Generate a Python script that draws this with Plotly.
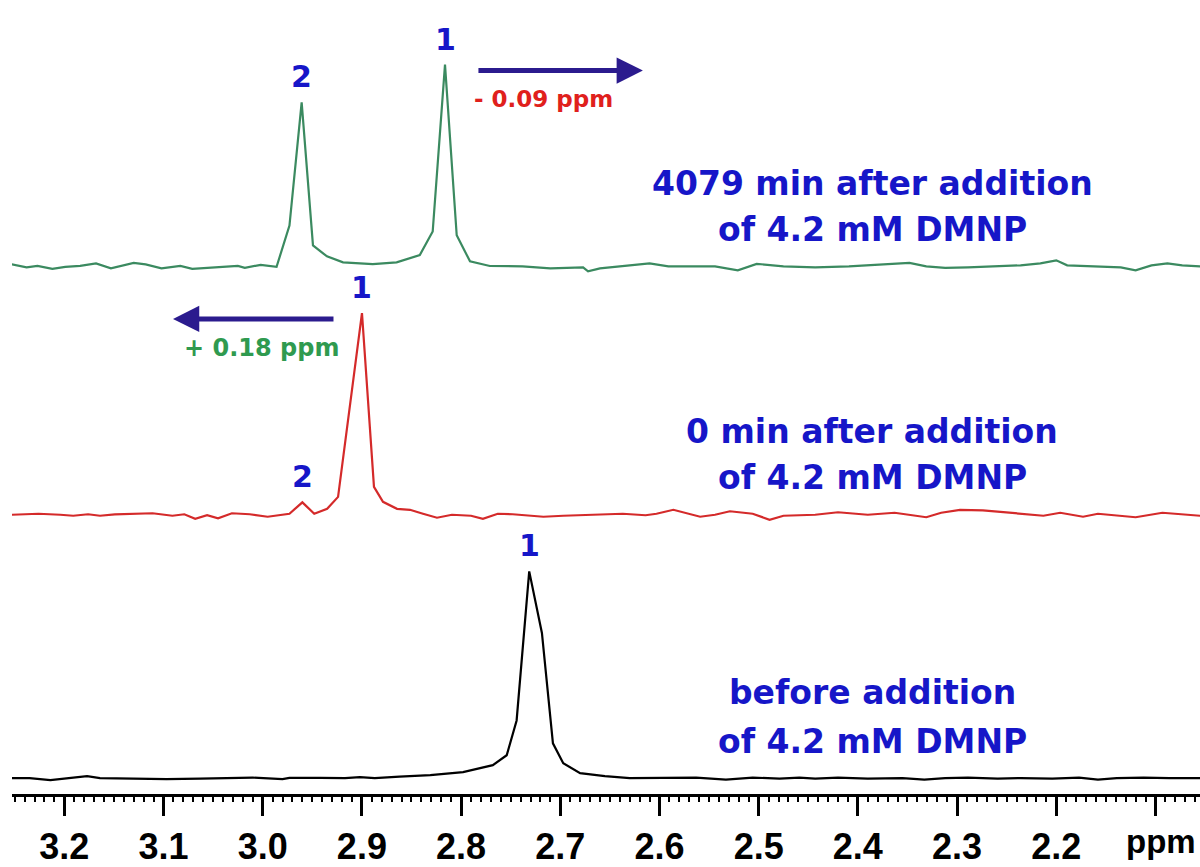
import plotly.graph_objects as go

# 1H NMR spectra (chemical shift in ppm, intensity in arbitrary units)
ppm_before = [3.253, 3.235, 3.214, 3.194, 3.177, 3.164, 3.134, 3.097, 3.063, 3.046,
              3.010, 2.980, 2.973, 2.942, 2.917, 2.902, 2.887, 2.862, 2.831, 2.798,
              2.768, 2.754, 2.744, 2.7313, 2.7185, 2.7074, 2.697, 2.680, 2.655, 2.630,
              2.600, 2.563, 2.533, 2.506, 2.479, 2.459, 2.443, 2.420, 2.390, 2.355,
              2.333, 2.312, 2.289, 2.259, 2.236, 2.204, 2.177, 2.158, 2.139, 2.112,
              2.086, 2.055]
int_before = [0, 0, -2, 0, 2, 0, -0.5, -1, -0.5, 0,
              0.5, -1, 0.3, 0.3, 0, 1, 0, 1.5, 3, 6,
              13, 23, 58, 208, 146, 35, 15, 5, 2, 0,
              0, 0.5, -1.5, 0.5, -0.5, 0.5, -0.5, 0.5, -0.5, 0,
              -1.5, 0, 0.5, -0.5, 0, -0.5, 0.5, -1.5, 0, 0.5,
              0, 0]

ppm_0min = [3.253, 3.226, 3.204, 3.191, 3.176, 3.164, 3.149, 3.111, 3.091, 3.079,
            3.068, 3.056, 3.045, 3.031, 3.013, 2.995, 2.973, 2.960, 2.948, 2.935,
            2.924, 2.8999, 2.8878, 2.8787, 2.8646, 2.8515, 2.8384, 2.8243, 2.8092, 2.790,
            2.778, 2.763, 2.748, 2.717, 2.697, 2.660, 2.637, 2.614, 2.603, 2.586,
            2.559, 2.544, 2.529, 2.506, 2.489, 2.475, 2.443, 2.420, 2.390, 2.363,
            2.331, 2.316, 2.297, 2.274, 2.243, 2.213, 2.196, 2.173, 2.158, 2.135,
            2.120, 2.093, 2.069, 2.055]
int_0min = [0, 1, 0, -1, 0.5, -1, 0.3, 1.5, -1, 0.5,
            -4, -0.5, -3.5, 1.5, 0.5, -2, 1, 12.5, 1, 6,
            18, 203, 28, 13, 6, 5, 1, -3, 0, -1,
            -4, 1, 0.5, -2, -1, 0, 1, -0.5, 1, 5,
            -2, 0, 3.5, 1, -5, -1, 0, 2.5, 0, 2,
            -2.5, 2, 5, 4.5, 2, -1, 2, -2, 1, -1,
            -2.5, 2, 0, -1]

ppm_4079min = [3.253, 3.238, 3.227, 3.212, 3.199, 3.184, 3.168, 3.153, 3.130, 3.118,
               3.102, 3.083, 3.071, 3.056, 3.041, 3.025, 3.018, 3.002, 2.986, 2.973,
               2.9607, 2.9493, 2.9352, 2.919, 2.889, 2.865, 2.8416, 2.8286, 2.8162, 2.8044,
               2.791, 2.771, 2.738, 2.710, 2.677, 2.672, 2.660, 2.637, 2.610, 2.591,
               2.544, 2.521, 2.502, 2.475, 2.443, 2.409, 2.390, 2.359, 2.348, 2.331,
               2.312, 2.289, 2.255, 2.236, 2.216, 2.200, 2.189, 2.158, 2.135, 2.120,
               2.104, 2.088, 2.073, 2.055]
int_4079min = [2, -1, 0.5, -2.5, -0.5, 0.5, 3, -2, 3.5, 2,
               -2, 0.5, -2.5, -1.5, -0.5, 0.5, -1.5, 1.5, -0.5, 41,
               165, 21, 10, 4, 2.3, 4, 11.3, 35, 203, 31.3,
               5, 0.3, 0, -2, -1, -5, -2, 0, 3, 0,
               0, -4, 2.5, 0, -1, 0, 1, 2.5, 3.5, 0,
               -1.5, -1, 0, 1, 3, 6, 1, 0, -1, -4,
               1, 3, 1, 0]

# peak assignments: (label, ppm, intensity) for each spectrum
peaks_before = [("1", 2.7313, 208)]
peaks_0min = [("1", 2.8999, 203), ("2", 2.9600, 12.5)]
peaks_4079min = [("1", 2.8162, 203), ("2", 2.9607, 165)]

tick_vals = [3.2, 3.1, 3.0, 2.9, 2.8, 2.7, 2.6, 2.5, 2.4, 2.3, 2.2, 2.1]
tick_text = ["3.2", "3.1", "3.0", "2.9", "2.8", "2.7", "2.6", "2.5", "2.4", "2.3", "2.2", ""]

# vertical stacking of the spectra
OFFSETS = {"before": 16, "0min": 281, "4079min": 531}
BLUE = "#1616c8"
ARROW = "#2b1b8e"

fig = go.Figure()

spectra = [
    ("before", ppm_before, int_before, "#000000", peaks_before),
    ("0min", ppm_0min, int_0min, "#d42a2a", peaks_0min),
    ("4079min", ppm_4079min, int_4079min, "#3b8a60", peaks_4079min),
]

annotations = []
for key, xs, ys, color, peaks in spectra:
    off = OFFSETS[key]
    fig.add_trace(go.Scatter(
        x=xs, y=[v + off for v in ys], mode="lines",
        line=dict(color=color, width=2.2), hoverinfo="skip", showlegend=False,
    ))
    for lab, px, pint in peaks:
        annotations.append(dict(
            x=px, y=pint + off, text=lab, showarrow=False, yanchor="bottom",
            yshift=6, font=dict(family="DejaVu Sans", size=30, color=BLUE, weight="bold"),
        ))

# condition captions
captions = [
    ("4079 min after addition", 614), ("of 4.2 mM DMNP", 568),
    ("0 min after addition", 365), ("of 4.2 mM DMNP", 318),
    ("before addition", 102), ("of 4.2 mM DMNP", 53),
]
for txt, yy in captions:
    annotations.append(dict(
        x=2.3857, y=yy, text=txt, showarrow=False, xanchor="center", yanchor="middle",
        font=dict(family="DejaVu Sans", size=33, color=BLUE, weight="bold"),
    ))

# shift arrows
annotations += [
    dict(x=2.6167, y=728, ax=2.784, ay=728, axref="x", ayref="y", text="",
         showarrow=True, arrowhead=2, arrowsize=1.05, arrowwidth=5, arrowcolor=ARROW),
    dict(x=2.7174, y=699, text="- 0.09 ppm", showarrow=False, yanchor="middle",
         font=dict(family="DejaVu Sans", size=23, color="#e0201c", weight="bold")),
    dict(x=3.0904, y=478, ax=2.9271, ay=478, axref="x", ayref="y", text="",
         showarrow=True, arrowhead=2, arrowsize=1.05, arrowwidth=5, arrowcolor=ARROW),
    dict(x=3.0007, y=449, text="+ 0.18 ppm", showarrow=False, yanchor="middle",
         font=dict(family="DejaVu Sans", size=24, color="#2f9a4f", weight="bold")),
    # axis unit, set beside the last tick label
    dict(x=1, xref="paper", xanchor="right", xshift=-2,
         y=-48 / 799, yref="paper", yanchor="middle", text="ppm", showarrow=False,
         font=dict(family="Liberation Sans", size=33, color="black", weight="bold")),
]

fig.update_layout(
    width=1200, height=867,
    margin=dict(l=12, r=0, t=0, b=68),
    paper_bgcolor="white", plot_bgcolor="white",
    annotations=annotations,
    xaxis=dict(
        range=[3.2527, 2.0551], showgrid=False, zeroline=False,
        showline=True, linecolor="black", linewidth=3,
        ticks="outside", ticklen=19, tickwidth=2.5, tickcolor="black",
        tickvals=tick_vals, ticktext=tick_text,
        tickfont=dict(family="Liberation Sans", size=36, color="black", weight="bold"),
        minor=dict(ticks="outside", dtick=0.01, ticklen=5, tickwidth=2, tickcolor="black"),
    ),
    yaxis=dict(range=[0, 799], visible=False, showgrid=False, zeroline=False),
)

fig.write_html("out.html")
